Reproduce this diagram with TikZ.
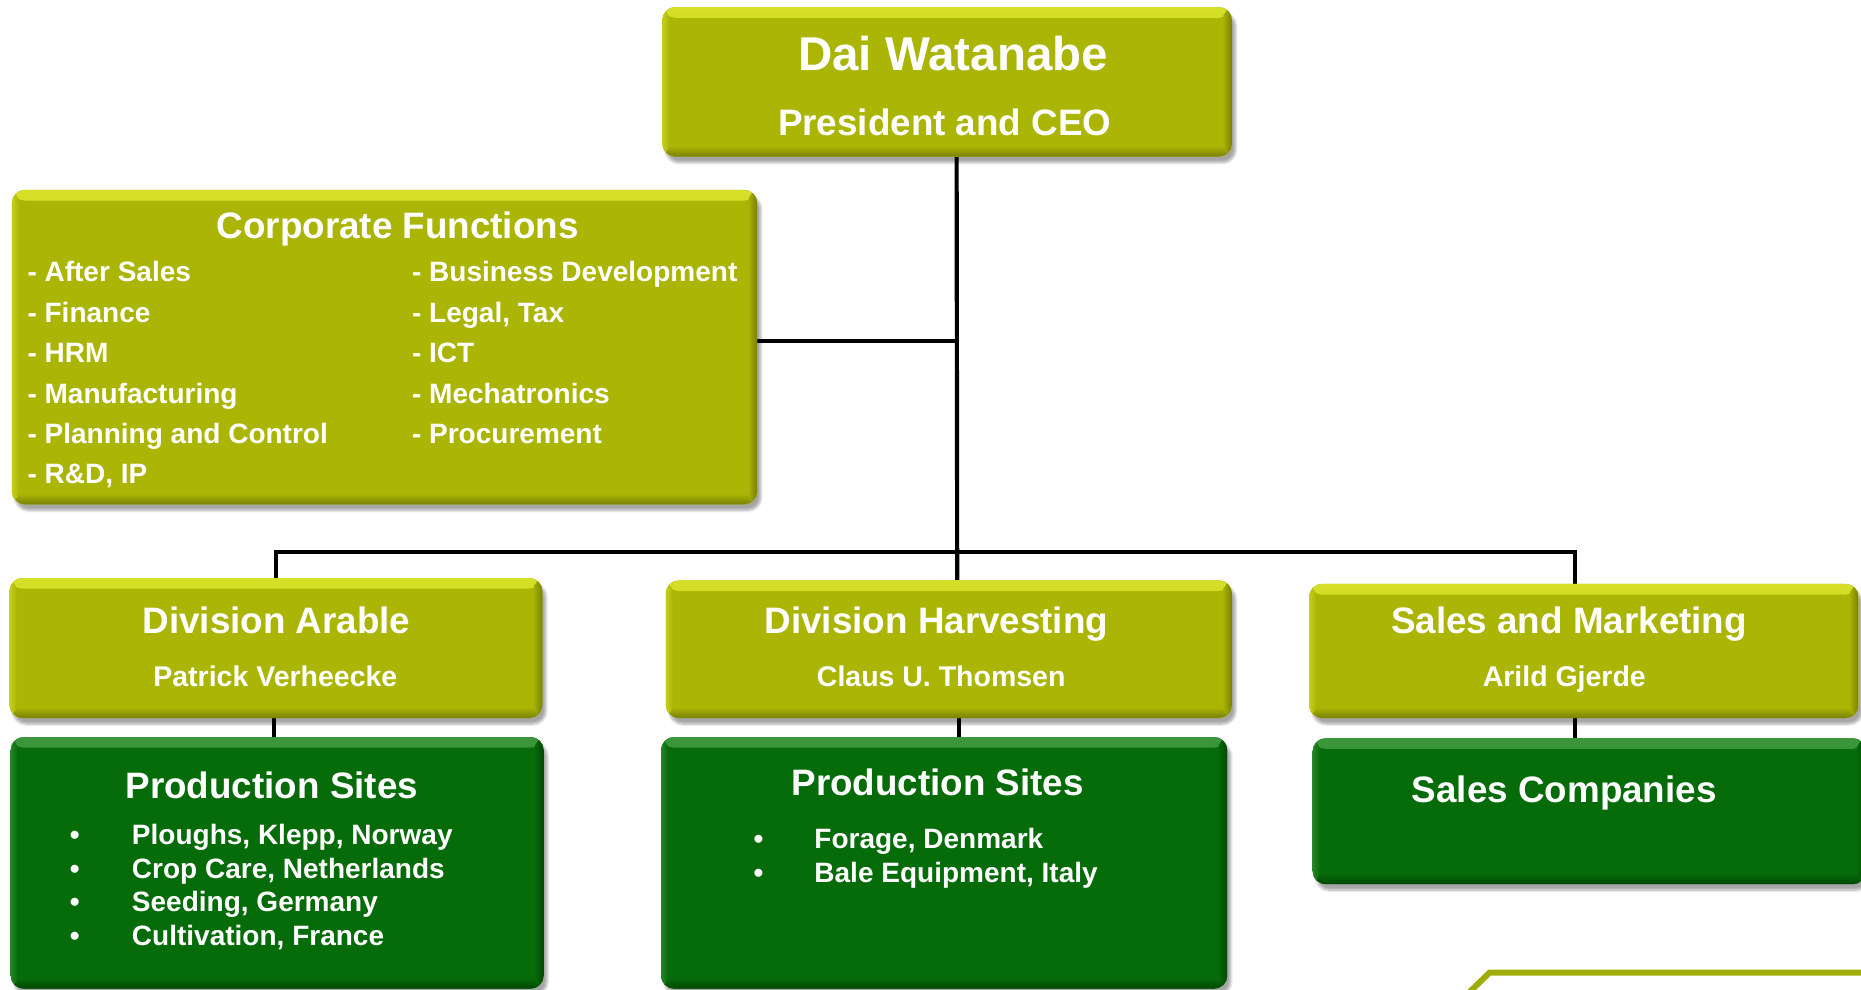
\documentclass[tikz,border=0pt]{standalone}
\usepackage{fontspec}
\setmainfont{Liberation Sans}
\usetikzlibrary{shadows.blur,backgrounds}
\definecolor{olv}{RGB}{171,181,5}
\definecolor{olvlight}{RGB}{214,224,40}
\definecolor{olvdark}{RGB}{120,128,4}
\definecolor{grn}{RGB}{6,107,9}
\definecolor{grnlight}{RGB}{60,150,60}
\definecolor{grndark}{RGB}{3,70,5}
\definecolor{deco}{RGB}{158,173,10}
\newcommand\fsz[1]{\fontsize{#1}{#1}\selectfont\bfseries}
\tikzset{
  bevel/.style n args={3}{fill=#1, path picture={
     \shade[top color=#2, bottom color=#1]
       (path picture bounding box.north west) rectangle ([yshift=-9pt]path picture bounding box.north east);
     \shade[top color=#1, bottom color=#3]
       ([yshift=9pt]path picture bounding box.south west) rectangle (path picture bounding box.south east);
     \shade[left color=#1, right color=#3]
       ([xshift=-8pt]path picture bounding box.south east) rectangle (path picture bounding box.north east);
     \shade[left color=#2!60!#1, right color=#1]
       (path picture bounding box.south west) rectangle ([xshift=6pt]path picture bounding box.north west);
  }},
  boxbase/.style={rectangle, rounded corners=11pt, inner sep=0pt,
     blur shadow={shadow xshift=3pt, shadow yshift=-5pt, shadow opacity=35, shadow blur steps=6}},
  obox/.style={boxbase, bevel={olv}{olvlight}{olvdark}},
  gbox/.style={boxbase, bevel={grn}{grnlight}{grndark}},
  txt/.style={text=white, inner sep=0pt, anchor=base},
  ltxt/.style={text=white, inner sep=0pt, anchor=base west},
  conn/.style={draw=black, line width=3.5pt},
}
\begin{document}
\begin{tikzpicture}[x=1pt,y=-1pt]
\useasboundingbox (0,0) rectangle (1568,834);
% boxes
\node[obox, minimum width=480pt, minimum height=126pt] (ceo) at (798,69) {};
\node[obox, minimum width=628pt, minimum height=265pt] (cf) at (324,292.5) {};
\node[obox, minimum width=449pt, minimum height=118pt] (da) at (232.5,546) {};
\node[obox, minimum width=477pt, minimum height=116pt] (dh) at (799.5,547) {};
\node[obox, minimum width=463pt, minimum height=113pt] (sm) at (1334.5,548.5) {};
\node[gbox, minimum width=449pt, minimum height=212pt] (pa) at (233.5,727) {};
\node[gbox, minimum width=477pt, minimum height=212pt] (ph) at (795.5,727) {};
\node[gbox, minimum width=466pt, minimum height=123pt] (sc) at (1339,683.5) {};
% connectors
\coordinate (jbar) at (806,465);
\begin{pgfonlayer}{background}
\draw[conn] ([xshift=8pt]ceo.south) -- ([xshift=7pt]dh.north);
\draw[conn] ([yshift=5.5pt]cf.east) -- ([yshift=5.5pt]cf.east -| jbar);
\draw[conn] (da.north) |- (jbar) -| ([xshift=-7.5pt]sm.north);
\draw[conn] ([xshift=-1.5pt]da.south) -- ([xshift=-2.5pt]pa.north);
\draw[conn] ([xshift=8.5pt]dh.south) -- ([xshift=12.5pt]ph.north);
\draw[conn] ([xshift=-7.5pt]sm.south) -- ([xshift=-12pt]sc.north);
\end{pgfonlayer}
% CEO
\node[txt, font=\fsz{40}] (ceoname) at (803,59) {Dai Watanabe};
\node[txt, font=\fsz{31}] (ceorole) at (796,114) {President and CEO};
% Corporate functions
\node[txt, font=\fsz{31}] (cftitle) at (335,201) {Corporate Functions};
\foreach \t [count=\i] in {After Sales,Finance,HRM,Manufacturing,Planning and Control,{R\&D, IP}}
  \node[ltxt, font=\fsz{23.6}] (cfl\i) at (23,{237.6+34*(\i-1)}) {- \t};
\foreach \t [count=\i] in {Business Development,{Legal, Tax},ICT,Mechatronics,Procurement}
  \node[ltxt, font=\fsz{23.6}] (cfr\i) at (347,{237.6+34*(\i-1)}) {- \t};
% divisions
\node[txt, font=\fsz{31}] (datitle) at (233,534) {Division Arable};
\node[txt, font=\fsz{24}] (daname) at (232,578.6) {Patrick Verheecke};
\node[txt, font=\fsz{31}] (dhtitle) at (789,534) {Division Harvesting};
\node[txt, font=\fsz{24}] (dhname) at (793,578.6) {Claus U. Thomsen};
\node[txt, font=\fsz{31}] (smtitle) at (1322,534) {Sales and Marketing};
\node[txt, font=\fsz{24}] (smname) at (1318,578.6) {Arild Gjerde};
% production sites arable
\node[txt, font=\fsz{31}] (patitle) at (229,673) {Production Sites};
\foreach \t [count=\i] in {{Ploughs, Klepp, Norway},{Crop Care, Netherlands},{Seeding, Germany},{Cultivation, France}}{
  \node[txt, font=\fsz{23.6}] (pab\i) at (63,{711.6+28.4*(\i-1)}) {\textbullet};
  \node[ltxt, font=\fsz{23.6}] (pai\i) at (111,{711.6+28.4*(\i-1)}) {\t};
}
% production sites harvesting
\node[txt, font=\fsz{31}] (phtitle) at (790,670) {Production Sites};
\foreach \t [count=\i] in {{Forage, Denmark},{Bale Equipment, Italy}}{
  \node[txt, font=\fsz{23.6}] (phb\i) at (639,{714.6+29*(\i-1)}) {\textbullet};
  \node[ltxt, font=\fsz{23.6}] (phi\i) at (686,{714.6+29*(\i-1)}) {\t};
}
% sales companies
\node[txt, font=\fsz{31}] (sctitle) at (1318,676) {Sales Companies};
% decoration bottom right
\draw[deco, line width=5pt] (1238,836) -- (1255,819.5) -- (1575,819.5);
\end{tikzpicture}
\end{document}
